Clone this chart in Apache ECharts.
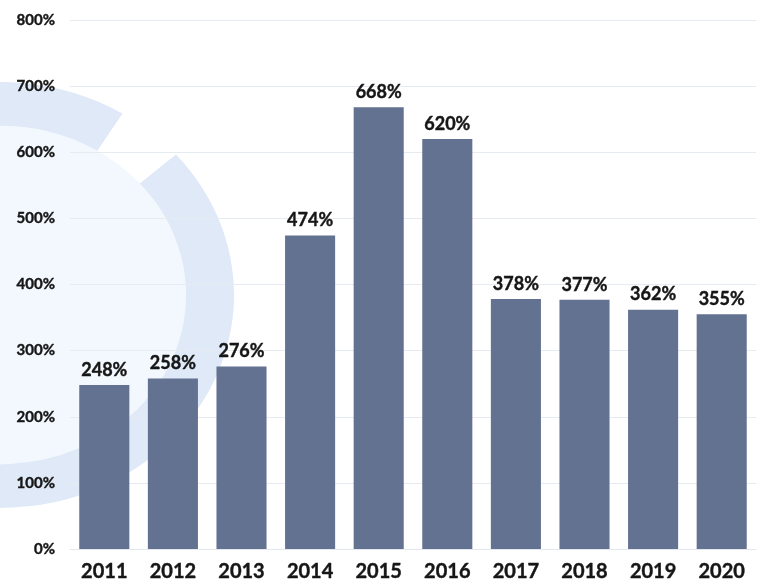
<!DOCTYPE html>
<html>
<head>
<meta charset="utf-8">
<script src="https://cdn.jsdelivr.net/npm/echarts@6/dist/echarts.min.js"></script>
<style>html,body{margin:0;padding:0;background:#fff}#c{width:764px;height:588px}</style>
</head>
<body>
<div id="c"></div>
<script>
const categories = ['2011','2012','2013','2014','2015','2016','2017','2018','2019','2020'];
const values = [248, 258, 276, 474, 668, 620, 378, 377, 362, 355];
const yMin = 0, yMax = 800, yStep = 100;

const chart = echarts.init(document.getElementById('c'));
const font = 'Lato, "Open Sans", sans-serif';
const ink = '#161616';
chart.setOption({
  animation: false,
  backgroundColor: '#ffffff',
  graphic: [
    { type: 'group', z: -10, x: 0, y: 295, scaleY: 0.91, children: [
      { type: 'circle', shape: { cx: 0, cy: 0, r: 186 }, style: { fill: '#f2f8fe' } },
      { type: 'sector', shape: { cx: 0, cy: 0, r: 234, r0: 186, startAngle: -1.95, endAngle: -1.02, clockwise: true }, style: { fill: '#dfe9f7' } },
      { type: 'sector', shape: { cx: 0, cy: 0, r: 234, r0: 186, startAngle: -0.72, endAngle: 2.9, clockwise: true }, style: { fill: '#dfe9f7' } }
    ]}
  ],
  grid: { left: 70, right: 8, top: 20, bottom: 39, containLabel: false },
  xAxis: {
    type: 'category',
    data: categories,
    axisLine: { show: true, lineStyle: { color: '#e3e7ee', width: 1 } },
    axisTick: { show: false },
    axisLabel: { color: ink, fontSize: 20, fontWeight: 'bold', fontFamily: font, margin: 13,
      textBorderColor: ink, textBorderWidth: 0.4 }
  },
  yAxis: {
    type: 'value',
    min: yMin, max: yMax, interval: yStep,
    axisLine: { show: false },
    axisTick: { show: false },
    splitLine: { lineStyle: { color: '#e6eaf1', width: 1 } },
    axisLabel: { color: ink, fontSize: 15, fontWeight: 'bold', fontFamily: font, margin: 15,
      textBorderColor: ink, textBorderWidth: 0.4, formatter: v => v + '%' }
  },
  series: [{
    type: 'bar',
    data: values,
    barCategoryGap: '27%',
    itemStyle: { color: '#637291' },
    label: {
      show: true, position: 'top', distance: 6,
      color: ink, fontSize: 18, fontWeight: 'bold', fontFamily: font,
      textBorderColor: ink, textBorderWidth: 0.4,
      formatter: p => p.value + '%'
    }
  }]
});
</script>
</body>
</html>
